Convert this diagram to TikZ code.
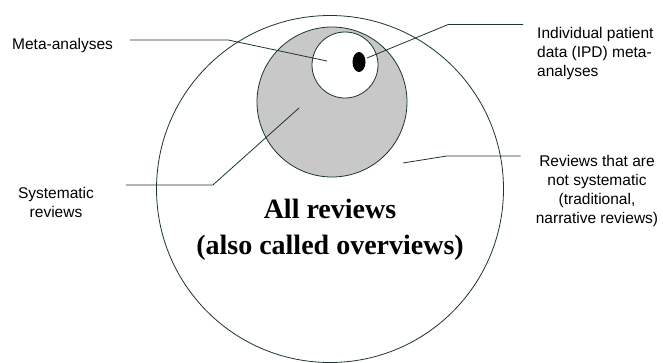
\documentclass[tikz,border=0pt]{standalone}
\usepackage{fontspec}
\setmainfont{Liberation Serif}
\setsansfont{Liberation Sans}
\usepackage{xcolor}
\usepackage{tikz}
\usetikzlibrary{shapes,positioning}

\definecolor{inkline}{RGB}{28,52,52}
\definecolor{sysgrey}{RGB}{200,200,200}

\begin{document}
\begin{tikzpicture}[
    x=1pt, y=-1pt,
    ring/.style={circle, draw=inkline, line width=0.8pt, inner sep=0pt},
    label/.style={font=\fontsize{15.5}{19}\selectfont\sffamily, inner sep=0pt},
    leader/.style={draw=inkline, line width=0.8pt},
]
    \useasboundingbox (0,0) rectangle (663,362);

    \node[ring, minimum size=347pt] (allrev) at (330,189) {};
    \node[ring, fill=sysgrey, minimum size=150pt] (sysrev) at (332,102) {};
    \node[ring, fill=white, minimum size=66pt] (meta) at (345,65) {};
    \node[ellipse, fill=black, minimum width=13pt, minimum height=20pt, inner sep=0pt] (ipd) at (359,62) {};

    \node[font=\fontsize{28}{36}\selectfont\bfseries, align=center] (title) at (330,230)
        {All reviews\\(also called overviews)};

    \node[label, anchor=west] (metalabel) at (12,45) {Meta-analyses};
    \node[label, align=center] (syslabel) at (56,202) {Systematic\\reviews};
    \node[label, align=left, anchor=west] (ipdlabel) at (537,53)
        {Individual patient\\data (IPD) meta-\\analyses};
    \node[label, align=center] (revlabel) at (597,191)
        {Reviews that are\\not systematic\\(traditional,\\narrative reviews)};

    \coordinate (metapt) at (327,61);
    \coordinate (ipdpt) at (367,58);
    \coordinate (syspt) at (299,108);
    \coordinate (revpt) at (403,163);

    \draw[leader] ([shift={(17,-5)}]metalabel.east) -- ++(98,0) -- (metapt);
    \draw[leader] ([shift={(-14,-2)}]ipdlabel.north west) -- ++(-75,0) -- (ipdpt);
    \draw[leader] ([shift={(108,-17)}]syslabel.west) -- ++(87,0) -- (syspt);
    \draw[leader] ([shift={(-15,-35)}]revlabel.west) -- ++(-74,0) -- (revpt);
\end{tikzpicture}
\end{document}
